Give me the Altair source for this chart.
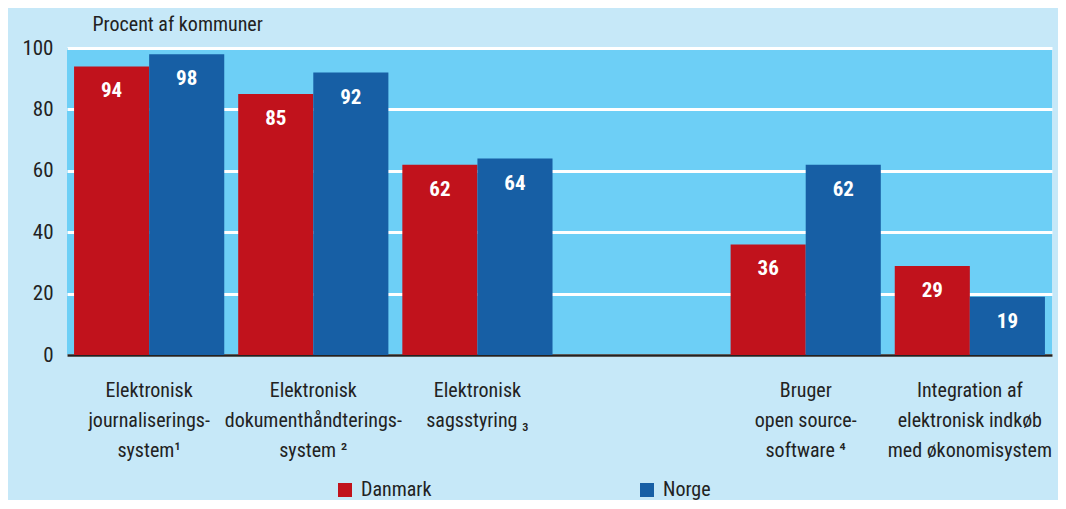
import altair as alt
import pandas as pd

categories = [
    "Elektronisk|journaliserings-|system\u00b9",
    "Elektronisk|dokumenthåndterings-|system \u00b2",
    "Elektronisk|sagsstyring \u2083",
    " ",
    "Bruger|open source-|software \u2074",
    "Integration af|elektronisk indkøb|med økonomisystem",
]
series = ["Danmark", "Norge"]
danmark = [94, 85, 62, None, 36, 29]
norge = [98, 92, 64, None, 62, 19]
colors = ["#c1121c", "#175fa5"]

rows = []
for c, d, n in zip(categories, danmark, norge):
    if d is not None:
        rows.append({"kategori": c, "land": "Danmark", "pct": d})
    if n is not None:
        rows.append({"kategori": c, "land": "Norge", "pct": n})
df = pd.DataFrame(rows)

FONT = "Liberation Sans Narrow, Roboto Condensed, Open Sans, sans-serif"

x = alt.X(
    "kategori:N",
    sort=categories,
    scale=alt.Scale(domain=categories, paddingInner=0.085, paddingOuter=0.043),
    axis=alt.Axis(
        title=None,
        labelAngle=0,
        labelExpr="split(datum.value, '|')",
        labelFontSize=20,
        labelLineHeight=30,
        labelPadding=35,
        labelBaseline="middle",
        labelColor="#222222",
        labelFont=FONT,
        ticks=False,
        domainColor="#222222",
        domainWidth=2.5,
        grid=False,
        labelLimit=300,
    ),
)
y = alt.Y(
    "pct:Q",
    scale=alt.Scale(domain=[0, 100]),
    axis=alt.Axis(
        values=[0, 20, 40, 60, 80, 100],
        title="Procent af kommuner",
        titleAngle=0,
        titleAlign="left",
        titleBaseline="alphabetic",
        titleX=25,
        titleY=-18,
        titleFontSize=20,
        titleFontWeight="normal",
        titleFont=FONT,
        titleColor="#222222",
        labelFontSize=21,
        labelFont=FONT,
        labelColor="#222222",
        labelPadding=14,
        ticks=False,
        domain=False,
        gridColor="white",
        gridWidth=3,
        gridOpacity=1,
    ),
)
color = alt.Color(
    "land:N",
    scale=alt.Scale(domain=series, range=colors),
    legend=alt.Legend(
        title=None,
        orient="none",
        legendX=268,
        legendY=432,
        direction="horizontal",
        symbolType="square",
        symbolSize=196,
        symbolStrokeWidth=0,
        labelFontSize=20,
        labelFont=FONT,
        labelColor="#222222",
        columnPadding=205,
        labelOffset=6,
    ),
)

bars = alt.Chart(df).mark_bar(opacity=1).encode(
    x=x,
    xOffset=alt.XOffset("land:N", sort=series, scale=alt.Scale(paddingInner=0, paddingOuter=0)),
    y=y,
    color=color,
)
labels = alt.Chart(df).mark_text(
    color="white", fontWeight="bold", fontSize=21, baseline="middle", dy=25, font=FONT
).encode(
    x=alt.X("kategori:N", sort=categories),
    xOffset=alt.XOffset("land:N", sort=series),
    y="pct:Q",
    text="pct:Q",
)

chart = (
    alt.layer(bars, labels)
    .properties(
        width=985,
        height=307,
        background="#c6e8f8",
        padding={"left": 59, "top": 40, "right": 6, "bottom": 145},
        autosize=alt.AutoSizeParams(type="none"),
    )
    .configure_view(fill="#6dcff6", stroke=None)
)

chart.save("out.html", embed_options={"renderer": "svg", "actions": False})
